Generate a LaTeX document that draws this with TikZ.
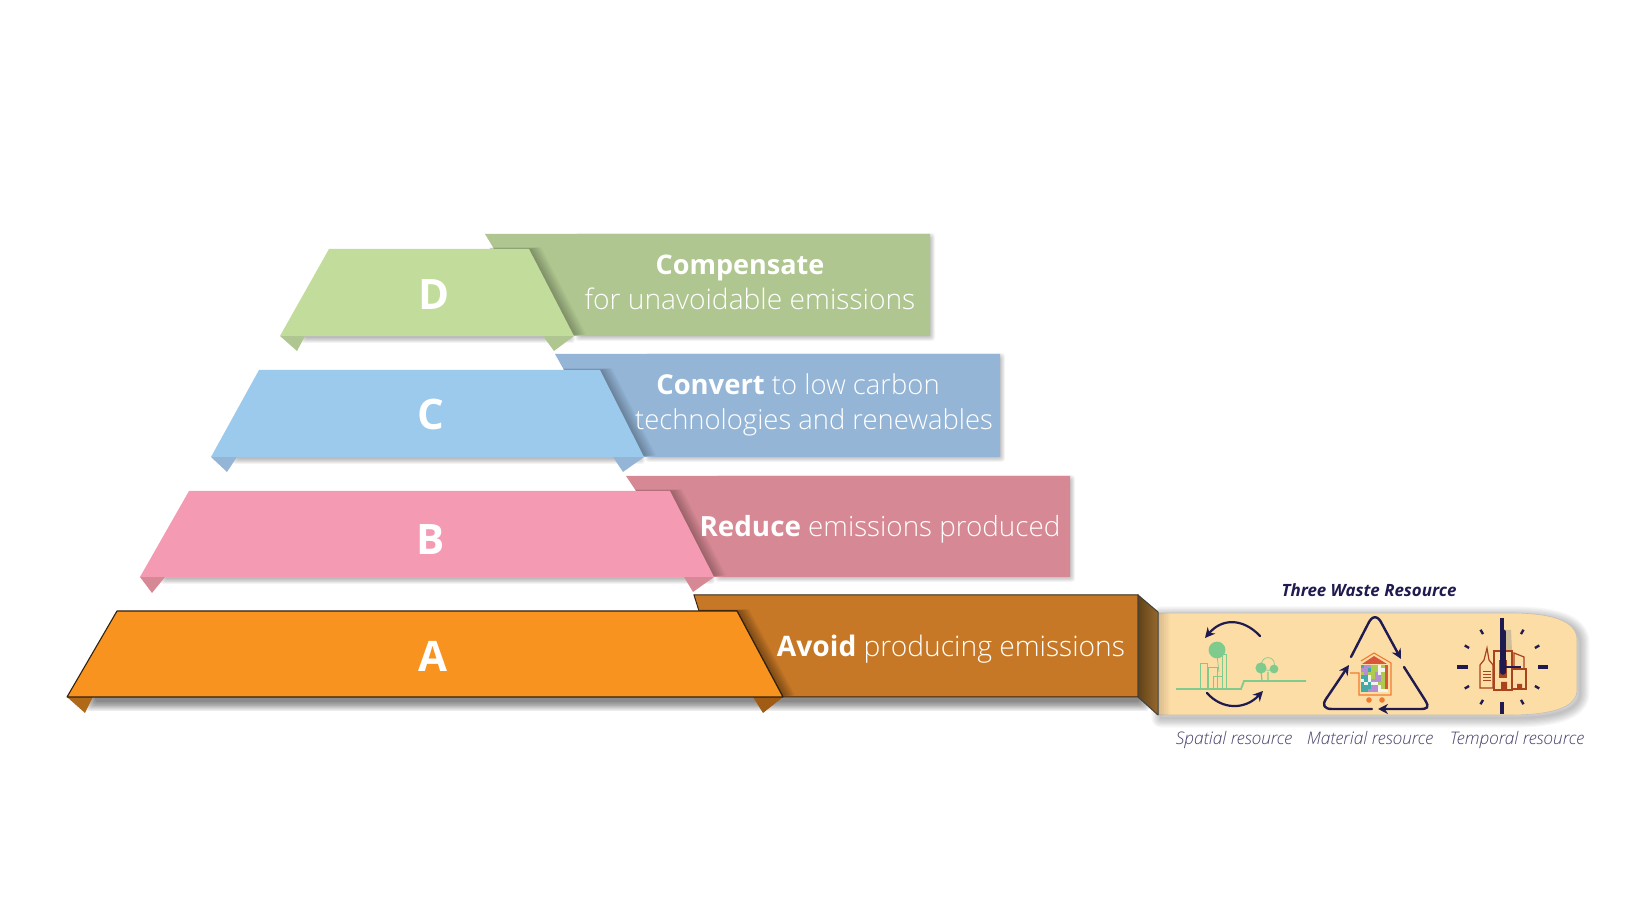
\documentclass[tikz,border=0pt]{standalone}
\usepackage{fontspec}
\setmainfont{Open Sans}
\newfontfamily\lightf{Open Sans Light}
\usetikzlibrary{arrows.meta}
\definecolor{navy}{HTML}{1F1A4F}
\definecolor{capt}{HTML}{45426A}
\definecolor{brick}{HTML}{A8431C}
\definecolor{leaf}{HTML}{7FCB8E}
\definecolor{orng}{HTML}{EE7B30}
\definecolor{tileT}{HTML}{45AAA5}
\definecolor{tileL}{HTML}{B68FD2}
\definecolor{tileG}{HTML}{AFCB4E}
\definecolor{tileW}{HTML}{F4F4EE}
\definecolor{tileR}{HTML}{D9563A}
\definecolor{tray}{HTML}{FDDDA6}
\definecolor{dback}{HTML}{AFC690}
\definecolor{dfront}{HTML}{C2DC9B}
\definecolor{cback}{HTML}{94B5D6}
\definecolor{cfront}{HTML}{9CCAEC}
\definecolor{bback}{HTML}{D68994}
\definecolor{bfront}{HTML}{F49AB3}
\definecolor{aback}{HTML}{C77826}
\definecolor{afront}{HTML}{F7931E}
\newcommand{\bb}[1]{{\normalfont\bfseries #1}}
\tikzset{
  lab/.style={text=white,font=\lightf\fontsize{#1}{16}\selectfont,inner sep=0pt,anchor=base},
  letter/.style={text=white,font=\fontsize{21}{24}\selectfont\bfseries,inner sep=0pt,anchor=base},
  captxt/.style={text=capt,font=\lightf\fontsize{8.65}{10}\selectfont\itshape,inner sep=0pt,anchor=base},
  cyc/.style={draw=navy,line width=1.1pt,line cap=round,-{Stealth[length=5pt,width=5pt]}},
  thinleaf/.style={draw=leaf,line width=.35pt},
  bld/.style={draw=brick,line width=.6pt,fill=tray},
  minortick/.style={draw=navy,line width=1.2pt},
  bigtick/.style={draw=navy,line width=1.8pt},
}
% soft shadow: x1 y1 x2 y2 spread opacity
\newcommand{\softrect}[6]{%
  \foreach \e in {0,...,7}{%
    \pgfmathsetmacro{\ee}{#5*(1-\e/7)}%
    \fill[black,opacity=#6,rounded corners=1.5pt] (#1-\ee,#2-\ee) rectangle (#3+\ee,#4+\ee);
  }}
% shadow of a front panel thrown on its back panel
\newcommand{\castshadow}[3]{%
  \begin{scope}
    \clip #1;
    \foreach \i in {1,...,8}{%
      \fill[black,opacity=#3,xshift=\i*0.75pt,yshift=\i*0.1pt] #2;
    }
  \end{scope}}
\newcommand{\traypath}{(1158,613) -- (1510,613) .. controls (1550,613) and (1577,620) .. (1577,640) -- (1577,690) .. controls (1577,708) and (1550,715) .. (1510,715) -- (1158,715) -- cycle}
\begin{document}
\begin{tikzpicture}[x=0.5pt,y=-0.5pt]
\useasboundingbox (0,0) rectangle (1646,913);
\fill[white] (0,0) rectangle (1646,913);

% ---------- D ----------
\softrect{580}{238}{930}{336}{5}{.035}
\softrect{305}{328}{570}{338}{5}{.035}
\fill[color=dback] (485,234) -- (930,234) -- (930,336) -- (574,336) -- (520,249) -- (494,249) -- cycle;
\castshadow{(485,234) -- (930,234) -- (930,336) -- (540,336) -- (490,249) -- cycle}{(329,249) -- (529,249) -- (574,336) -- (280,336) -- cycle}{.035}
\fill[color=dback] (280,336) -- (297,351) -- (305,336) -- cycle;
\fill[color=dback] (543,336) -- (554,351) -- (574,336) -- cycle;
\fill[color=dfront] (329,249) -- (529,249) -- (574,336) -- (280,336) -- cycle;
\node[letter] (letterD) at (434,310) {D};
\node[lab=13.5] (compA) at (740,275) {\bb{Compensate}};
\node[lab=14.1] (compB) at (750,310) {for unavoidable emissions};

% ---------- C ----------
\softrect{650}{358}{1000}{457}{5}{.035}
\softrect{237}{449}{640}{459}{5}{.035}
\fill[color=cback] (555,354) -- (1000,354) -- (1000,457) -- (600,457) -- (564,370) -- cycle;
\castshadow{(555,354) -- (1000,354) -- (1000,457) -- (590,457) -- (564,370) -- cycle}{(259,370) -- (600,370) -- (644,457) -- (211,457) -- cycle}{.035}
\fill[color=cback] (211,457) -- (227,472) -- (237,457) -- cycle;
\fill[color=cback] (613,457) -- (623,472) -- (644,457) -- cycle;
\fill[color=cfront] (259,370) -- (600,370) -- (644,457) -- (211,457) -- cycle;
\node[letter] (letterC) at (431,430) {C};
\node[lab=13.7] (convA) at (798,395) {\bb{Convert} to low carbon};
\node[lab=13.7] (convB) at (814,430) {technologies and renewables};

% ---------- B ----------
\softrect{720}{480}{1070}{577}{5}{.035}
\softrect{165}{569}{710}{579}{5}{.035}
\fill[color=bback] (626,476) -- (1070,476) -- (1070,577) -- (670,577) -- (636,491) -- cycle;
\castshadow{(626,476) -- (1070,476) -- (1070,577) -- (660,577) -- (636,491) -- cycle}{(189,491) -- (670,491) -- (714,577) -- (140,577) -- cycle}{.035}
\fill[color=bback] (140,577) -- (152,593) -- (165,577) -- cycle;
\fill[color=bback] (684,577) -- (693,592) -- (714,577) -- cycle;
\fill[color=bfront] (189,491) -- (670,491) -- (714,577) -- (140,577) -- cycle;
\node[letter] (letterB) at (431,555) {B};
\node[lab=13.9] (red) at (880,537) {\bb{Reduce} emissions produced};

% ---------- tray ----------
\foreach \w in {1,2,...,8}{
  \begin{scope}[xshift=1.5pt,yshift=-1.5pt]
  \draw[black,opacity=.03,line width=\w*1.2pt,line join=round] \traypath;
  \end{scope}
}
\softrect{95}{685}{1140}{702}{9}{.07}
\fill[color=tray,draw=black!25,line width=.3pt] \traypath;
\begin{scope}
 \clip (1158,613) rectangle (1172,715);
 \foreach \i in {0,...,6}{\fill[black,opacity=.025] (1158,613) rectangle (1158+2*\i,715);}
\end{scope}

% ---------- A ----------
\fill[color=aback,draw=black!70!brown,line width=.5pt] (694,595) -- (1138,595) -- (1138,697) -- (783,697) -- (737,611) -- (699,611) -- cycle;
\castshadow{(694,595) -- (1138,595) -- (1138,697) -- (760,697) -- (700,611) -- cycle}{(117,611) -- (737,611) -- (783,697) -- (67,697) -- cycle}{.05}
\shade[left color={rgb,255:red,96;green,66;blue,24},right color={rgb,255:red,150;green,105;blue,45}] (1138,595) -- (1158,612) -- (1158,715) -- (1138,697) -- cycle;
\draw[black!75,line width=.5pt,line join=round] (1138,595) -- (1158,612) -- (1158,715) -- (1138,697) -- cycle;
\fill[color={rgb,255:red,175;green,105;blue,25}] (67,697) -- (85,713) -- (93,697) -- cycle;
\fill[color={rgb,255:red,160;green,92;blue,20}] (753,697) -- (763,713) -- (783,697) -- cycle;
\fill[color=afront,draw=black!75!brown,line width=.55pt,line join=round] (117,611) -- (737,611) -- (783,697) -- (67,697) -- cycle;
\node[letter] (letterA) at (433,672) {A};
\node[lab=14.1] (avoid) at (951,657) {\bb{Avoid} producing emissions};

% ---------- spatial icon ----------
\draw[cyc] (1260,636) .. controls (1243,618) and (1222,618) .. (1205,638);
\draw[cyc] (1207,693) .. controls (1222,710) and (1245,710) .. (1263,691);
\fill[color=leaf] (1217,650) circle (4.2pt);
\draw[thinleaf] (1200,689) -- (1200,663) -- (1207,663) -- (1207,689);
\draw[thinleaf] (1208,689) -- (1208,667) -- (1217,667) -- (1217,689);
\draw[thinleaf] (1213,689) -- (1213,676) -- (1222,676) -- (1222,689);
\draw[thinleaf] (1222,689) -- (1222,654) -- (1226,654) -- (1226,689);
\draw[thinleaf] (1217,655) -- (1219,672);
\draw[thinleaf] (1268,664) circle (3.2pt);
\fill[color=leaf] (1261,668) circle (2.8pt);
\fill[color=leaf] (1274,669) circle (2.2pt);
\draw[leaf,line width=.6pt] (1261,670) -- (1262,681) (1268,672) -- (1268,681);
\draw[leaf,line width=.9pt] (1176,689) -- (1241,689) -- (1244,681) -- (1306,681);

% ---------- material icon ----------
\draw[cyc,line width=1.2pt] (1351,657) -- (1368,624) .. controls (1372,615) and (1378,615) .. (1382,624) -- (1401,659);
\draw[cyc,line width=1.2pt] (1404,667) -- (1425,700) .. controls (1430,708) and (1427,709) .. (1420,709) -- (1378,709);
\draw[cyc,line width=1.2pt] (1372,709) -- (1332,709) .. controls (1324,709) and (1322,705) .. (1326,699) -- (1349,665);
\foreach \row [count=\j from 0] in {{T,L,L,G,G,W,G,R},{L,L,T,G,G,W,W,R},{G,L,G,G,L,W,G,R},{T,T,W,G,L,L,G,R},{W,T,W,L,L,L,G,R},{T,W,T,W,W,G,G,R},{T,T,T,L,L,W,G,R},{T,T,L,L,L,W,W,W}}{
  \foreach \c [count=\i from 0] in \row {
    \fill[color=tile\c] (1361+3.4*\i,665+3.4*\j) rectangle ++(3.4,3.4);
  }
}
\fill[color=tileR] (1362,664) -- (1374,656) -- (1387,664) -- cycle;
\draw[orng,line width=.55pt] (1350,673) -- (1359,673) -- (1359,695) -- (1391,695) -- (1391,663) -- (1374,653) -- (1361,661);
\fill[color=orng] (1369,700) circle (1.4pt) (1382,700) circle (1.4pt);

% ---------- temporal icon ----------
\foreach \a in {30,60,120,150,210,240,300,330}{
  \draw[minortick] (1502,667) ++(\a:38) -- ++(\a:5);
}
\draw[bigtick] (1502,618) -- (1502,632) (1502,702) -- (1502,714) (1457,667) -- (1468,667) (1538,667) -- (1548,667);
\fill[gray,opacity=.35] (1504,630) -- (1511,630) -- (1513,672) -- (1504,672) -- cycle;
\draw[bld] (1480,688) -- (1480,665) -- (1484,660) -- (1487,648) -- (1489,660) -- (1493,665) -- (1493,688) -- cycle;
\draw[brick,line width=.4pt] (1483,671) -- (1491,671) (1483,674) -- (1491,674) (1483,677) -- (1491,677) (1483,680) -- (1491,680);
\draw[bld] (1514,669) -- (1514,653) -- (1524,657) -- (1524,669);
\draw[bld] (1512,669) rectangle (1526,689);
\draw[bld] (1494,651) rectangle (1512,690);
\fill[color=brick] (1501,682) rectangle (1507,690) (1517,684) rectangle (1522,689);
\fill[color=brick] (1499,660) rectangle (1507,678);
\draw[navy,line width=2.8pt,line cap=round] (1503,632) -- (1503,672);
\draw[navy,line width=1.3pt] (1503,667) -- (1521,667);

% ---------- texts ----------
\node[text=navy,font=\fontsize{8.45}{10}\selectfont\bfseries\itshape,inner sep=0pt,anchor=base] (head) at (1369,597) {Three Waste Resource};
\node[captxt] (cap1) at (1234,745) {Spatial resource};
\node[captxt] (cap2) at (1370,745) {Material resource};
\node[captxt] (cap3) at (1517,745) {Temporal resource};
\end{tikzpicture}
\end{document}
